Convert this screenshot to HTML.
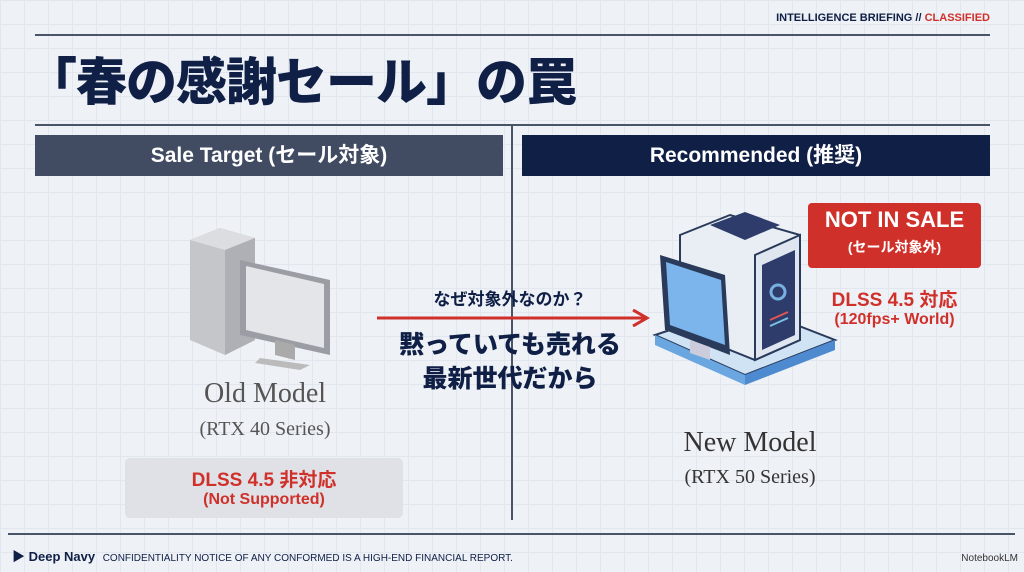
<!DOCTYPE html>
<html><head><meta charset="utf-8"><style>
*{margin:0;padding:0;box-sizing:border-box}
body{width:1024px;height:572px;overflow:hidden;position:relative;background:#eef1f6;
background-image:linear-gradient(#e2e6ee 1px,transparent 1px),linear-gradient(90deg,#e2e6ee 1px,transparent 1px);background-size:24px 24px;
font-family:"Liberation Sans","Noto Sans CJK JP",sans-serif;color:#0f1f45}
.a{position:absolute}
.c{text-align:center;white-space:nowrap}
.serif{font-family:"Liberation Serif","Noto Serif CJK SC",serif;color:#555}
.red{color:#d0302a}
</style></head><body>
<div class="a" style="right:34px;top:12px;font-size:11px;font-weight:bold;letter-spacing:0">INTELLIGENCE BRIEFING // <span class="red">CLASSIFIED</span></div>
<div class="a" style="left:35px;top:34px;width:955px;height:2px;background:#4a5468"></div>
<div class="a" style="left:26px;top:48px;font-size:51px;font-weight:900;letter-spacing:-1px;line-height:70px">「春の感謝セール」の罠</div>
<div class="a" style="left:35px;top:124px;width:955px;height:2px;background:#4a5468"></div>
<div class="a" style="left:511px;top:125px;width:2px;height:395px;background:#4a5468"></div>
<div class="a c" style="left:35px;top:135px;width:468px;height:41px;background:#414c63;color:#fff;font-size:21px;font-weight:bold;line-height:41px">Sale Target (セール対象)</div>
<div class="a c" style="left:522px;top:135px;width:468px;height:41px;background:#0f1f45;color:#fff;font-size:21px;font-weight:bold;line-height:41px">Recommended (推奨)</div>

<svg class="a" style="left:180px;top:220px" width="170" height="150" viewBox="0 0 170 150">
<polygon points="10,20 40,8 75,18 75,120 45,135 10,120" fill="#c4c6ca"/>
<polygon points="10,20 40,8 75,18 45,30" fill="#dcdde0"/>
<polygon points="45,30 75,18 75,120 45,135" fill="#aeb0b5"/>
<polygon points="60,40 150,60 150,135 60,115" fill="#9a9da3"/>
<polygon points="66,46 144,64 144,128 66,110" fill="#e4e5e8"/>
<polygon points="95,120 115,125 115,140 95,135" fill="#aaa"/>
<polygon points="80,138 130,145 120,150 75,143" fill="#bbb"/>
</svg>
<div class="a c serif" style="left:130px;top:378px;width:270px;font-size:28px">Old Model</div>
<div class="a c serif" style="left:130px;top:418px;width:270px;font-size:20px">(RTX 40 Series)</div>
<div class="a" style="left:125px;top:458px;width:278px;height:60px;background:#dfe1e6;border-radius:5px"></div>
<div class="a c red" style="left:125px;top:465px;width:278px;font-size:19px;font-weight:bold">DLSS 4.5 非対応</div>
<div class="a c red" style="left:125px;top:491px;width:278px;font-size:16px;font-weight:bold">(Not Supported)</div>

<div class="a c" style="left:380px;top:285px;width:260px;font-size:17px;font-weight:bold">なぜ対象外なのか？</div>
<svg class="a" style="left:375px;top:309px" width="280" height="18"><line x1="2" y1="9" x2="270" y2="9" stroke="#d0302a" stroke-width="3"/><polyline points="258,1 272,9 258,17" fill="none" stroke="#d0302a" stroke-width="3"/></svg>
<div class="a c" style="left:360px;top:328px;width:300px;font-size:25px;font-weight:900;line-height:34px">黙っていても売れる<br>最新世代だから</div>

<svg class="a" style="left:650px;top:200px" width="190" height="190" viewBox="0 0 190 190">
<polygon points="5,135 95,175 185,140 95,105" fill="#cfe3f5" stroke="#2a3a5a" stroke-width="2"/>
<polygon points="5,135 95,175 95,185 5,145" fill="#6aa6e0"/>
<polygon points="95,175 185,140 185,150 95,185" fill="#4e8ad0"/>
<polygon points="30,35 80,15 150,35 150,140 105,160 30,130" fill="#e9eef5" stroke="#2a3a5a" stroke-width="2"/>
<polygon points="105,55 150,35 150,140 105,160" fill="#dfe6f0" stroke="#2a3a5a" stroke-width="2"/>
<polygon points="112,65 145,50 145,135 112,150" fill="#2d3c6b"/>
<circle cx="128" cy="92" r="7" fill="none" stroke="#7ab0e0" stroke-width="3"/>
<line x1="120" y1="120" x2="138" y2="112" stroke="#e05555" stroke-width="2"/>
<line x1="120" y1="126" x2="138" y2="118" stroke="#7ac0e0" stroke-width="2"/>
<polygon points="60,25 95,12 130,25 95,40" fill="#2d3c6b"/>
<polygon points="10,55 75,75 80,155 15,130" fill="#2a3a5a"/>
<polygon points="16,62 71,80 75,145 20,125" fill="#7cb4ec"/>
<polygon points="40,140 60,147 60,160 40,153" fill="#ccd"/>
</svg>
<div class="a" style="left:808px;top:203px;width:173px;height:65px;background:#d0302a;border-radius:4px"></div>
<div class="a c" style="left:808px;top:207px;width:173px;font-size:22px;font-weight:bold;color:#fff">NOT IN SALE</div>
<div class="a c" style="left:808px;top:237px;width:173px;font-size:14px;font-weight:bold;color:#fff">(セール対象外)</div>
<div class="a c red" style="left:808px;top:285px;width:173px;font-size:19px;font-weight:bold">DLSS 4.5 対応</div>
<div class="a c red" style="left:808px;top:311px;width:173px;font-size:16px;font-weight:bold">(120fps+ World)</div>
<div class="a c serif" style="left:620px;top:427px;width:260px;font-size:28px;color:#333">New Model</div>
<div class="a c serif" style="left:620px;top:466px;width:260px;font-size:20px;color:#333">(RTX 50 Series)</div>

<div class="a" style="left:8px;top:533px;width:1007px;height:2px;background:#4a5468"></div>
<div class="a" style="left:12px;top:546px;font-size:13px;font-weight:bold">&#9654; Deep Navy <span style="font-size:10px;font-weight:normal;margin-left:4px">CONFIDENTIALITY NOTICE OF ANY CONFORMED IS A HIGH-END FINANCIAL REPORT.</span></div>
<div class="a" style="right:6px;top:553px;font-size:10px;color:#333">NotebookLM</div>
</body></html>
